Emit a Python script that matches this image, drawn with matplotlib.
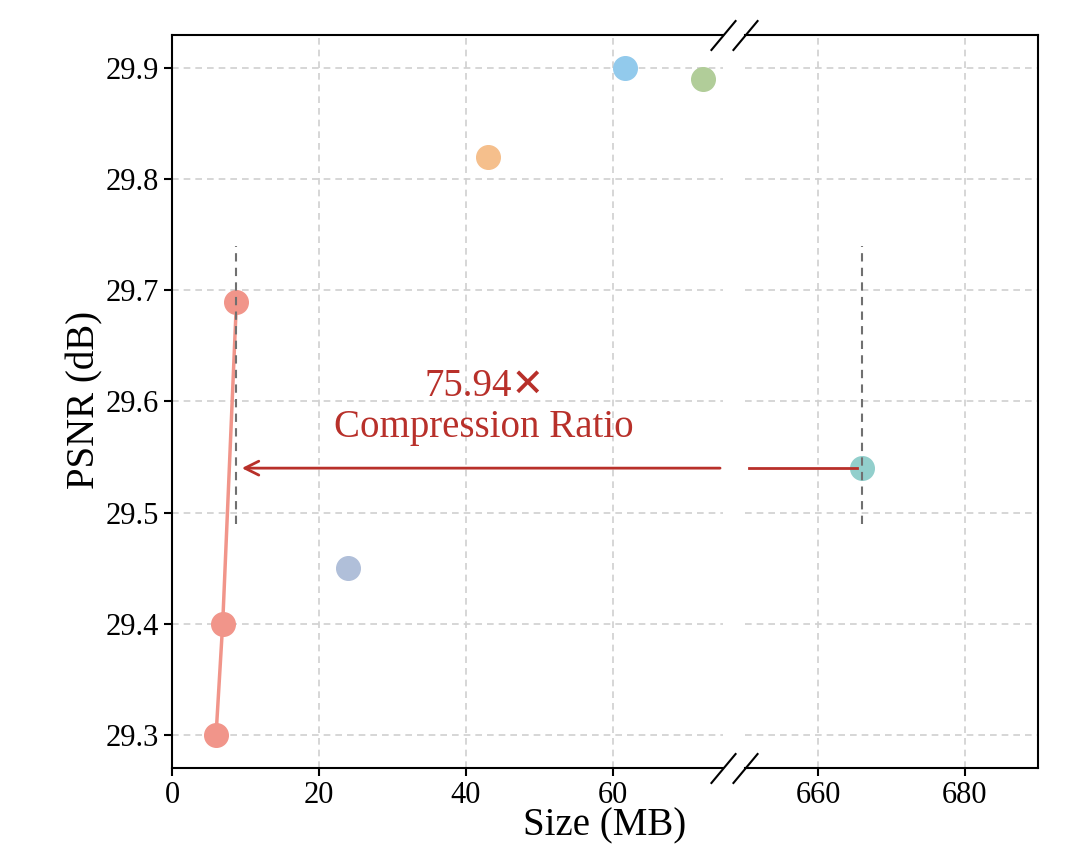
import numpy as np
import matplotlib
matplotlib.use("Agg")
from matplotlib import pyplot as plt

plt.rcParams['font.family'] = ['Liberation Serif', 'DejaVu Sans']

# data
ours_size = [6.0, 6.9, 8.77]
ours_psnr = [29.30, 29.40, 29.69]
other_size = [24.0, 43.0, 61.6, 72.3]
other_psnr = [29.45, 29.82, 29.90, 29.89]
other_colors = ["#b0bfd9", "#f5bf8c", "#92caec", "#b1cd99"]
big_size = 666.0
big_psnr = 29.54
ratio_text = "75.94\u2715\nCompression Ratio"

red = "#f1958a"
dark_red = "#b8302a"

W, H = 1081, 846
fig = plt.figure(figsize=(W/100, H/100), dpi=100)
ax1 = fig.add_axes([172/W, 78/H, 551/W, 733/H])
ax2 = fig.add_axes([745/W, 78/H, 293/W, 733/H], sharey=ax1)

for ax in (ax1, ax2):
    ax.grid(True, linestyle=(0, (4, 3)), color="#d0d0d0", linewidth=1.2)
    ax.set_axisbelow(True)
    for s in ax.spines.values():
        s.set_linewidth(1.5)
    ax.tick_params(labelsize=22, width=1.5, length=6)

ax1.spines['right'].set_visible(False)
ax2.spines['left'].set_visible(False)
ax2.tick_params(axis='y', left=False, labelleft=False)

ax1.set_xlim(0, 75)
ax2.set_xlim(650, 690)
ax1.set_ylim(29.27, 29.93)
ax1.set_xticks([0, 20, 40, 60])
ax2.set_xticks([660, 680])
ax1.set_yticks(np.arange(29.3, 29.91, 0.1))
ax1.set_yticklabels([f"{v:.1f}" for v in np.arange(29.3, 29.91, 0.1)])

# our method
ax1.plot(ours_size, ours_psnr, color=red, linewidth=2.5, marker='o',
         markersize=17, zorder=3)
# others
for x, y, c in zip(other_size, other_psnr, other_colors):
    ax1.plot(x, y, 'o', color=c, markersize=17, zorder=3)
ax2.plot(big_size, big_psnr, 'o', color="#92cfcc", markersize=17, zorder=2)

# reference dashed lines
ax1.vlines(ours_size[-1], 29.49, 29.74, colors="#707070", linestyles=(0, (4, 3)),
           linewidth=1.5, zorder=4)
ax2.vlines(big_size, 29.49, 29.74, colors="#707070", linestyles=(0, (4, 3)),
           linewidth=1.5, zorder=4)

# arrow
ax1.annotate("", xy=(9.5, big_psnr), xytext=(74.6, big_psnr),
             arrowprops=dict(arrowstyle="->", color=dark_red, lw=2,
                             mutation_scale=25, shrinkA=0, shrinkB=0))
ax2.plot([650.5, 665.3], [big_psnr, big_psnr], color=dark_red, linewidth=2, zorder=3)
ax1.text(42.5, 29.595, ratio_text, color=dark_red, fontsize=28, ha='center',
         va='center', linespacing=1.15)

# break marks
kw = dict(marker=[(-1, -1.2), (1, 1.2)], markersize=22, linestyle='none',
          color='k', mec='k', mew=1.5, clip_on=False)
ax1.plot([1, 1], [0, 1], transform=ax1.transAxes, **kw)
ax2.plot([0, 0], [0, 1], transform=ax2.transAxes, **kw)

fig.text(605/W, 1 - 826/H, "Size (MB)", fontsize=28, ha='center', va='center')
fig.text(85/W, 1 - 400/H, "PSNR (dB)", fontsize=28, ha='center', va='center',
         rotation=90)

fig.savefig("out.png", dpi=100)
